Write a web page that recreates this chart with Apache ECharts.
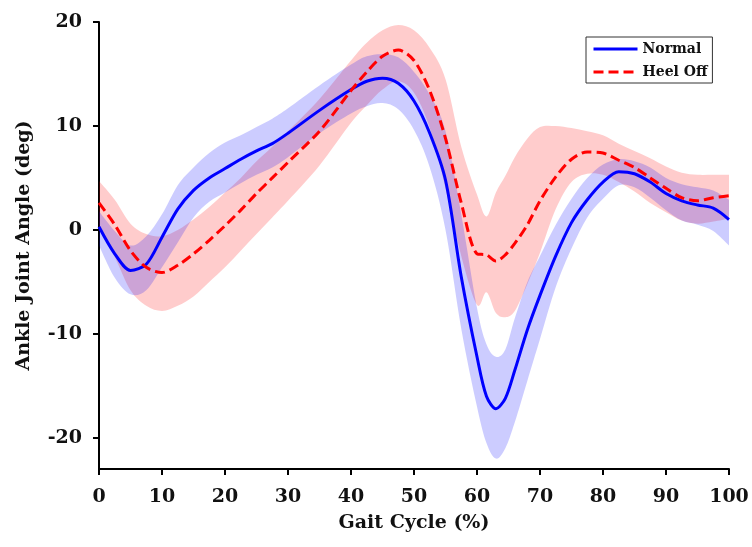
<!DOCTYPE html>
<html>
<head>
<meta charset="utf-8">
<script src="https://cdn.jsdelivr.net/npm/echarts@6/dist/echarts.min.js"></script>
<style>
  html, body { margin: 0; padding: 0; background: #fff; }
  #chart { width: 752px; height: 547px; }
</style>
</head>
<body>
<div id="chart"></div>
<script>
// gait cycle (%) sample positions
const gaitX = [0, 2.5, 5, 7.5, 10, 12.5, 15, 17.5, 20, 22.5, 25, 27.5, 30, 35, 40, 42.5, 45, 47.5, 50, 52.5,
  55, 57.5, 60, 61.5, 63, 64.5, 66, 68, 70, 72.5, 75, 77.5, 80, 82.5, 85, 87.5, 90, 92.5, 95, 97.5, 100];

// Normal: mean and band
const normalMean = [0.3, -2.3, -3.9, -3.3, -0.7, 2.0, 3.8, 5.0, 5.9, 6.8, 7.6, 8.3, 9.3, 11.5, 13.5, 14.3, 14.6, 14.1, 12.4, 9.3,
  4.8, -4.5, -12.2, -16.0, -17.2, -16.2, -13.5, -9.6, -6.3, -2.5, 0.7, 2.9, 4.6, 5.6, 5.4, 4.6, 3.5, 2.8, 2.4, 2.1, 1.0];
const normalUpper = [1.8, -0.1, -1.5, -0.6, 1.5, 4.3, 6.0, 7.4, 8.4, 9.1, 9.9, 10.7, 11.7, 13.9, 15.9, 16.7, 16.9, 16.6, 15.2, 13.0,
  9.5, 1.5, -7.5, -11.0, -12.2, -11.5, -8.5, -5.0, -2.5, 0.5, 3.0, 5.0, 6.3, 6.8, 6.6, 6.0, 5.0, 4.4, 4.1, 3.8, 2.9];
const normalLower = [-1.5, -4.6, -6.2, -5.8, -3.6, -1.2, 1.2, 2.7, 3.6, 4.5, 5.3, 6.0, 7.0, 9.3, 11.2, 11.9, 12.2, 11.6, 9.6, 6.0,
  0.0, -9.5, -17.0, -20.5, -22.0, -21.0, -18.5, -14.5, -10.5, -5.5, -1.8, 1.2, 3.0, 4.3, 4.1, 3.1, 1.9, 0.9, 0.5, -0.1, -1.5];

// Heel Off: mean and band
const heelMean = [2.6, 0.5, -2.0, -3.6, -4.1, -3.4, -2.3, -1.0, 0.4, 1.9, 3.5, 5.0, 6.5, 9.5, 13.4, 15.2, 16.7, 17.3, 16.3, 13.4,
  8.8, 2.6, -2.3, -2.4, -3.0, -2.4, -1.3, 0.5, 2.8, 5.1, 6.8, 7.5, 7.4, 6.7, 6.0, 5.0, 4.0, 3.1, 2.8, 3.1, 3.3];
const heelUpper = [4.7, 2.9, 0.6, -0.4, -0.6, 0.0, 1.0, 2.2, 3.6, 5.0, 6.6, 8.0, 9.5, 12.6, 16.3, 18.0, 19.2, 19.7, 19.2, 17.5,
  14.5, 8.0, 3.4, 1.3, 3.6, 5.2, 7.0, 8.8, 9.9, 10.0, 9.8, 9.5, 9.1, 8.3, 7.6, 6.9, 6.1, 5.5, 5.3, 5.3, 5.3];
const heelLower = [0.4, -2.6, -5.8, -7.3, -7.8, -7.3, -6.4, -5.0, -3.6, -2.0, -0.4, 1.2, 2.8, 6.2, 10.3, 12.0, 13.5, 14.3, 13.2, 9.8,
  4.0, -2.5, -7.2, -6.0, -8.0, -8.4, -7.8, -5.2, -2.2, 2.0, 4.6, 5.4, 5.3, 4.6, 3.7, 2.6, 1.7, 0.9, 0.6, 0.8, 1.1];

const yTicks = [-20, -10, 0, 10, 20];

const FONT = 'DejaVu Serif';

// smooth curve through screen points (catmull-rom as cubic bezier)
function curveTo(p) {
  let d = '';
  for (let i = 0; i < p.length - 1; i++) {
    const p0 = p[Math.max(i - 1, 0)];
    const p1 = p[i];
    const p2 = p[i + 1];
    const p3 = p[Math.min(i + 2, p.length - 1)];
    const c1x = p1[0] + (p2[0] - p0[0]) / 6;
    const c1y = p1[1] + (p2[1] - p0[1]) / 6;
    const c2x = p2[0] - (p3[0] - p1[0]) / 6;
    const c2y = p2[1] - (p3[1] - p1[1]) / 6;
    d += ' C' + c1x + ' ' + c1y + ' ' + c2x + ' ' + c2y + ' ' + p2[0] + ' ' + p2[1];
  }
  return d;
}

function bandSeries(name, upper, lower, fill) {
  return {
    name: name,
    type: 'custom',
    coordinateSystem: 'cartesian2d',
    silent: true,
    z: 1,
    data: [[0, 0]],
    renderItem: function (params, api) {
      const top = gaitX.map((x, i) => api.coord([x, upper[i]]));
      const bot = gaitX.map((x, i) => api.coord([x, lower[i]])).reverse();
      const d = 'M' + top[0][0] + ' ' + top[0][1] + curveTo(top) +
        ' L' + bot[0][0] + ' ' + bot[0][1] + curveTo(bot) + ' Z';
      return {
        type: 'path',
        shape: { pathData: d },
        style: { fill: fill, stroke: null }
      };
    }
  };
}

const chart = echarts.init(document.getElementById('chart'));

chart.setOption({
  animation: false,
  backgroundColor: '#fff',
  grid: {
    left: 99,
    right: 23,
    top: 22,
    bottom: 78,
    containLabel: false,
    outerBoundsMode: 'none'
  },
  legend: {
    data: ['Normal', 'Heel Off'],
    orient: 'vertical',
    left: 586,
    top: 37,
    padding: [5, 5, 4, 6],
    itemWidth: 44,
    itemHeight: 14,
    itemGap: 9,
    borderColor: '#333',
    borderWidth: 1,
    borderRadius: 0,
    backgroundColor: '#fff',
    itemStyle: { opacity: 0 },
    lineStyle: { width: 3 },
    textStyle: {
      fontFamily: FONT,
      fontWeight: 'bold',
      fontSize: 14,
      color: '#111'
    }
  },
  xAxis: {
    type: 'value',
    min: 0,
    max: 100,
    interval: 10,
    name: 'Gait Cycle (%)',
    nameLocation: 'middle',
    nameGap: 45,
    nameTextStyle: { fontFamily: FONT, fontWeight: 'bold', fontSize: 19, color: '#111' },
    axisLine: { onZero: false, lineStyle: { color: '#000', width: 2 } },
    axisTick: { show: true, inside: false, length: 6, lineStyle: { color: '#000', width: 2 } },
    axisLabel: { margin: 19, fontFamily: FONT, fontWeight: 'bold', fontSize: 19, color: '#111' },
    splitLine: { show: false }
  },
  yAxis: {
    type: 'value',
    min: -23,
    max: 20,
    name: 'Ankle Joint Angle (deg)',
    nameLocation: 'middle',
    nameGap: 65,
    nameTextStyle: { fontFamily: FONT, fontWeight: 'bold', fontSize: 19, color: '#111' },
    axisLine: { show: true, onZero: false, lineStyle: { color: '#000', width: 2 } },
    axisTick: { show: true, inside: false, length: 6, customValues: yTicks, lineStyle: { color: '#000', width: 2 } },
    axisLabel: { margin: 17, customValues: yTicks, fontFamily: FONT, fontWeight: 'bold', fontSize: 19, color: '#111' },
    splitLine: { show: false }
  },
  series: [
    bandSeries('Heel Off band', heelUpper, heelLower, 'rgba(255, 0, 0, 0.2)'),
    bandSeries('Normal band', normalUpper, normalLower, 'rgba(0, 0, 255, 0.2)'),
    {
      name: 'Normal',
      type: 'line',
      z: 3,
      smooth: 0.3,
      symbol: 'none',
      data: gaitX.map((x, i) => [x, normalMean[i]]),
      color: '#0000ff',
      lineStyle: { color: '#0000ff', width: 3 }
    },
    {
      name: 'Heel Off',
      type: 'line',
      z: 4,
      smooth: 0.3,
      symbol: 'none',
      data: gaitX.map((x, i) => [x, heelMean[i]]),
      color: '#ff0000',
      lineStyle: { color: '#ff0000', width: 3, type: [10, 5] }
    }
  ]
});
</script>
</body>
</html>
